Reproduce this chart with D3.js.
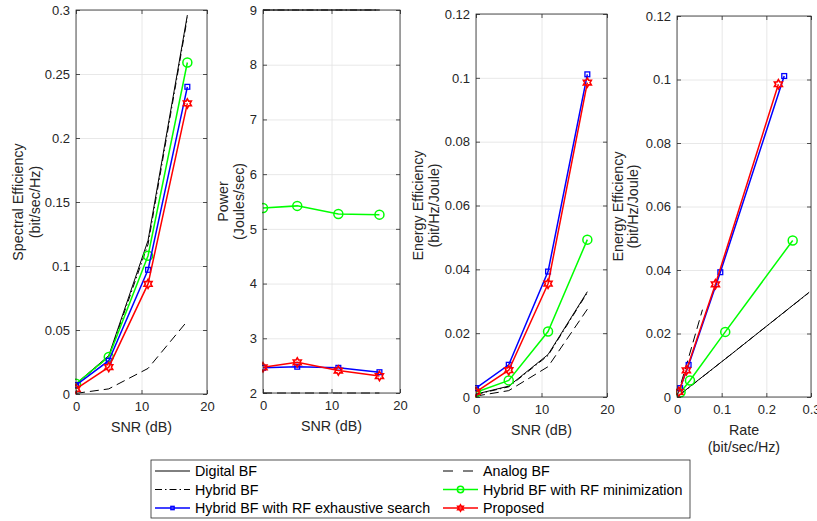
<!DOCTYPE html>
<html>
<head>
<meta charset="utf-8">
<script src="https://cdn.jsdelivr.net/npm/d3@7/dist/d3.min.js"></script>
<style>
    body { margin: 0; background: #fff; }
    svg { font-family: "Liberation Sans", Arial, Helvetica, sans-serif; }
</style>
</head>
<body>
<svg id="chart" width="817" height="521"></svg>
<script>

// SNR points (dB)
var snr = [0, 5, 11, 17];

// Spectral efficiency (bit/sec/Hz)
var seDigital = [0.008, 0.030, 0.120, 0.296];
var seAnalog = [0.0005, 0.004, 0.020, 0.057];
var seHybrid = [0.0075, 0.029, 0.117, 0.294];
var seMin = [0.008, 0.029, 0.108, 0.259];
var seExh = [0.007, 0.026, 0.097, 0.240];
var seProp = [0.004, 0.021, 0.086, 0.227];

// Power (Joules/sec)
var pwDigital = [9, 9, 9, 9];
var pwAnalog = [2, 2, 2, 2];
var pwHybrid = [9, 9, 9, 9];
var pwMin = [5.38, 5.42, 5.27, 5.26];
var pwExh = [2.46, 2.48, 2.46, 2.38];
var pwProp = [2.47, 2.56, 2.41, 2.31];

// Energy efficiency (bit/Hz/Joule)
var eeDigital = [0.0009, 0.0034, 0.0133, 0.033];
var eeAnalog = [0.0003, 0.002, 0.0095, 0.0275];
var eeHybrid = [0.0008, 0.0032, 0.013, 0.0327];
var eeMin = [0.0015, 0.0052, 0.0205, 0.0493];
var eeExh = [0.0028, 0.0101, 0.0393, 0.1011];
var eeProp = [0.0016, 0.0084, 0.0355, 0.0985];

// Tick values
var snrTicks = [0, 10, 20];
var rateTicks = [0, 0.1, 0.2, 0.3];
var seTicks = [0, 0.05, 0.1, 0.15, 0.2, 0.25, 0.3];
var pwTicks = [2, 3, 4, 5, 6, 7, 8, 9];
var eeTicks = [0, 0.02, 0.04, 0.06, 0.08, 0.1, 0.12];

var series = [
    {name: "Digital BF", se: seDigital, pw: pwDigital, ee: eeDigital, color: "#000", width: 1, dash: null, legendDash: null, marker: null},
    {name: "Analog BF", se: seAnalog, pw: pwAnalog, ee: eeAnalog, color: "#000", width: 1, dash: "9,5", legendDash: "10,10", marker: null},
    {name: "Hybrid BF", se: seHybrid, pw: pwHybrid, ee: eeHybrid, color: "#000", width: 1, dash: "7,3,1.5,3", legendDash: "7,3,1.5,3", marker: null},
    {name: "Hybrid BF with RF minimization", se: seMin, pw: pwMin, ee: eeMin, color: "#00ff00", width: 1.5, dash: null, legendDash: null, marker: "circle"},
    {name: "Hybrid BF with RF exhaustive search", se: seExh, pw: pwExh, ee: eeExh, color: "#0000ff", width: 1.5, dash: null, legendDash: null, marker: "square"},
    {name: "Proposed", se: seProp, pw: pwProp, ee: eeProp, color: "#ff0000", width: 1.5, dash: null, legendDash: null, marker: "hexagram"}
];

var panels = [
    {left: 76, top: 10, right: 207, bottom: 394, xKey: "snr", yKey: "se", xDomain: [0, 20], yDomain: [0, 0.3],
        xTicks: snrTicks, yTicks: seTicks, xLabel: ["SNR (dB)"], yLabel: ["Spectral Efficiency", "(bit/sec/Hz)"], yLabelOff: [-58, -41]},
    {left: 263, top: 10, right: 400, bottom: 393, xKey: "snr", yKey: "pw", xDomain: [0, 20], yDomain: [2, 9],
        xTicks: snrTicks, yTicks: pwTicks, xLabel: ["SNR (dB)"], yLabel: ["Power", "(Joules/sec)"], yLabelOff: [-40, -24]},
    {left: 476, top: 14, right: 607, bottom: 397, xKey: "snr", yKey: "ee", xDomain: [0, 20], yDomain: [0, 0.12],
        xTicks: snrTicks, yTicks: eeTicks, xLabel: ["SNR (dB)"], yLabel: ["Energy Efficiency", "(bit/Hz/Joule)"], yLabelOff: [-58, -42]},
    {left: 677, top: 16, right: 811, bottom: 397, xKey: "se", yKey: "ee", xDomain: [0, 0.3], yDomain: [0, 0.12],
        xTicks: rateTicks, yTicks: eeTicks, xLabel: ["Rate", "(bit/sec/Hz)"], yLabel: ["Energy Efficiency", "(bit/Hz/Joule)"], yLabelOff: [-59, -44]}
];

var axisColor = "#262626";
var gridColor = "#e2e2e2";

var svg = d3.select("#chart");

function hexagramPath(r) {
    var pts = [];
    for (var i = 0; i < 12; i++) {
        var a = -Math.PI / 2 + i * Math.PI / 6;
        var rr = i % 2 === 0 ? r : r / Math.sqrt(3);
        pts.push([rr * Math.cos(a), rr * Math.sin(a)]);
    }
    return "M" + pts.map(function(p) { return p[0].toFixed(2) + "," + p[1].toFixed(2); }).join("L") + "Z";
}

function drawMarker(g, type, color, cx, cy, scale) {
    if (type === "circle") {
        g.append("circle").attr("cx", cx).attr("cy", cy).attr("r", 4.5 * scale)
            .attr("fill", "none").attr("stroke", color).attr("stroke-width", 1.5);
    } else if (type === "square") {
        var s = 4.8 * scale;
        g.append("rect").attr("x", cx - s / 2).attr("y", cy - s / 2).attr("width", s).attr("height", s)
            .attr("fill", "none").attr("stroke", color).attr("stroke-width", 1.3);
    } else if (type === "hexagram") {
        g.append("path").attr("d", hexagramPath(4.6 * scale))
            .attr("transform", "translate(" + cx + "," + cy + ")")
            .attr("fill", "none").attr("stroke", color).attr("stroke-width", 1.6);
    }
}

function styleTicks(sel) {
    sel.select(".domain").remove();
    sel.selectAll(".tick line").attr("stroke", axisColor).attr("stroke-width", 0.8);
    sel.selectAll(".tick text").attr("fill", axisColor).style("font-size", "13px");
}

panels.forEach(function(p, pi) {
    var w = p.right - p.left;
    var h = p.bottom - p.top;
    var x = d3.scaleLinear().domain(p.xDomain).range([0, w]);
    var y = d3.scaleLinear().domain(p.yDomain).range([h, 0]);
    var fmt = function(d) { return String(+d.toFixed(3)); };

    var g = svg.append("g").attr("transform", "translate(" + p.left + "," + p.top + ")");

    // Grid
    var gx = g.append("g").attr("transform", "translate(0," + h + ")")
        .call(d3.axisBottom(x).tickValues(p.xTicks).tickSize(-h).tickFormat(""));
    gx.select(".domain").remove();
    gx.selectAll("line").attr("stroke", gridColor).attr("stroke-width", 0.8);
    var gy = g.append("g")
        .call(d3.axisLeft(y).tickValues(p.yTicks).tickSize(-w).tickFormat(""));
    gy.select(".domain").remove();
    gy.selectAll("line").attr("stroke", gridColor).attr("stroke-width", 0.8);

    // Series
    var clipId = "clip" + pi;
    g.append("clipPath").attr("id", clipId).append("rect")
        .attr("x", -1).attr("y", -1).attr("width", w + 2).attr("height", h + 2);
    var plot = g.append("g").attr("clip-path", "url(#" + clipId + ")");
    var line = d3.line().x(function(d) { return x(d[0]); }).y(function(d) { return y(d[1]); });

    series.forEach(function(s) {
        var xs = p.xKey === "snr" ? snr : s[p.xKey];
        var pts = d3.zip(xs, s[p.yKey]);
        plot.append("path")
            .attr("d", line(pts))
            .attr("fill", "none")
            .attr("stroke", s.color)
            .attr("stroke-width", s.width)
            .attr("stroke-dasharray", s.dash);
        if (s.marker) {
            pts.forEach(function(d) {
                drawMarker(plot, s.marker, s.color, x(d[0]), y(d[1]), 1);
            });
        }
    });

    // Axes (ticks inside, mirrored)
    g.append("g").attr("transform", "translate(0," + h + ")")
        .call(d3.axisBottom(x).tickValues(p.xTicks).tickSizeInner(-4).tickSizeOuter(0).tickPadding(8).tickFormat(fmt))
        .call(styleTicks);
    g.append("g")
        .call(d3.axisLeft(y).tickValues(p.yTicks).tickSizeInner(-4).tickSizeOuter(0).tickPadding(6).tickFormat(fmt))
        .call(styleTicks);
    g.append("g")
        .call(d3.axisTop(x).tickValues(p.xTicks).tickSizeInner(-4).tickSizeOuter(0).tickFormat(""))
        .call(styleTicks);
    g.append("g").attr("transform", "translate(" + w + ",0)")
        .call(d3.axisRight(y).tickValues(p.yTicks).tickSizeInner(-4).tickSizeOuter(0).tickFormat(""))
        .call(styleTicks);

    g.append("rect").attr("width", w).attr("height", h)
        .attr("fill", "none").attr("stroke", axisColor).attr("stroke-width", 0.8);

    // Axis labels
    p.xLabel.forEach(function(t, i) {
        g.append("text")
            .attr("x", w / 2)
            .attr("y", h + 33 + i * 17)
            .attr("dy", "0.35em")
            .attr("text-anchor", "middle")
            .attr("fill", axisColor)
            .style("font-size", "14.3px")
            .text(t);
    });
    p.yLabel.forEach(function(t, i) {
        g.append("text")
            .attr("transform", "translate(" + p.yLabelOff[i] + "," + (h / 2) + ") rotate(-90)")
            .attr("dy", "0.35em")
            .attr("text-anchor", "middle")
            .attr("fill", axisColor)
            .style("font-size", "14.3px")
            .text(t);
    });
});

// Legend
var legend = svg.append("g").attr("class", "legend");
legend.append("rect")
    .attr("x", 151).attr("y", 460).attr("width", 539).attr("height", 58)
    .attr("fill", "#fff").attr("stroke", axisColor).attr("stroke-width", 0.8);

var legendCols = [155, 443];
var legendRows = [471, 489.5, 508];

series.forEach(function(s, i) {
    var cx = legendCols[i % 2];
    var cy = legendRows[Math.floor(i / 2)];
    legend.append("line")
        .attr("x1", cx).attr("x2", cx + 35)
        .attr("y1", cy).attr("y2", cy)
        .attr("stroke", s.color)
        .attr("stroke-width", s.width)
        .attr("stroke-dasharray", s.legendDash);
    if (s.marker) drawMarker(legend, s.marker, s.color, cx + 17.5, cy, 0.7);
    legend.append("text")
        .attr("x", cx + 40)
        .attr("y", cy)
        .attr("dy", "0.35em")
        .attr("fill", "#000")
        .style("font-size", "14.3px")
        .text(s.name);
});

</script>
</body>
</html>
